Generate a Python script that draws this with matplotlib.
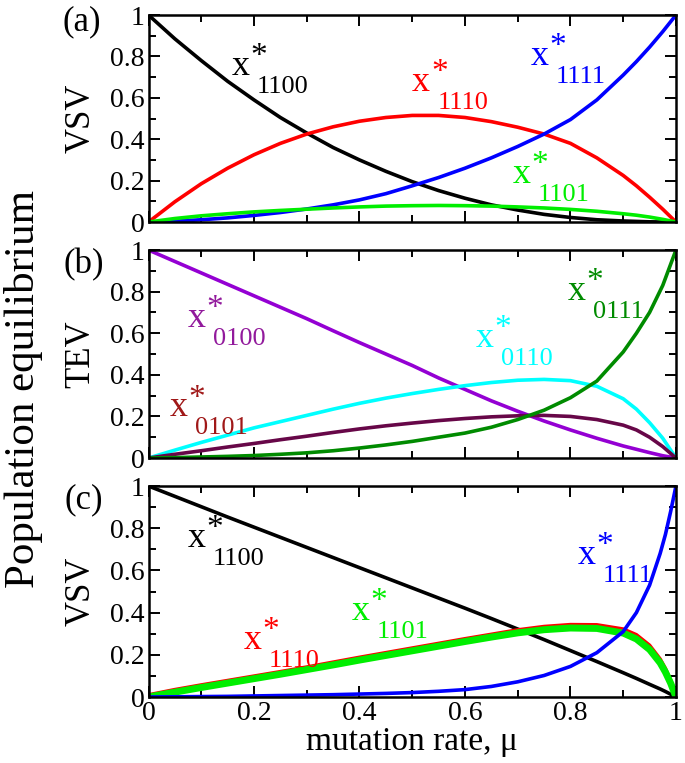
import numpy as np
import matplotlib
matplotlib.use("Agg")
import matplotlib.pyplot as plt
from matplotlib.ticker import MultipleLocator, FormatStrFormatter

plt.rcParams['font.family'] = ['Liberation Serif', 'DejaVu Serif']

# ---- data ----
mu = [0, 0.05, 0.1, 0.15, 0.2, 0.25, 0.3, 0.35, 0.4, 0.45, 0.5,
      0.55, 0.6, 0.65, 0.7, 0.75, 0.8, 0.85, 0.9, 0.925, 0.95, 0.975, 1.0]

# (a) VSV
a_1100 = [1, 0.885, 0.78, 0.68, 0.59, 0.505, 0.43, 0.36, 0.30, 0.245, 0.195,
          0.152, 0.115, 0.083, 0.058, 0.037, 0.022, 0.011, 0.005, 0.003, 0.001, 0.0003, 0]
a_1110 = [0, 0.098, 0.185, 0.26, 0.325, 0.38, 0.425, 0.46, 0.487, 0.505, 0.515,
          0.515, 0.505, 0.485, 0.458, 0.425, 0.38, 0.31, 0.225, 0.175, 0.12, 0.062, 0]
a_1111 = [0, 0.004, 0.011, 0.02, 0.032, 0.046, 0.063, 0.083, 0.107, 0.137, 0.175,
          0.215, 0.26, 0.31, 0.365, 0.425, 0.495, 0.59, 0.71, 0.775, 0.845, 0.92, 1]
a_1101 = [0, 0.017, 0.03, 0.04, 0.049, 0.056, 0.062, 0.068, 0.073, 0.077, 0.079,
          0.08, 0.079, 0.077, 0.073, 0.068, 0.061, 0.052, 0.04, 0.033, 0.024, 0.013, 0]

# (b) TEV
b_0100 = [1, 0.945, 0.89, 0.835, 0.78, 0.725, 0.67, 0.612, 0.555, 0.5, 0.445,
          0.385, 0.33, 0.275, 0.225, 0.178, 0.135, 0.095, 0.058, 0.042, 0.026, 0.011, 0]
b_0110 = [0, 0.038, 0.075, 0.11, 0.145, 0.175, 0.205, 0.235, 0.263, 0.288, 0.31,
          0.33, 0.348, 0.363, 0.374, 0.378, 0.372, 0.345, 0.285, 0.235, 0.17, 0.095, 0]
b_0101 = [0, 0.018, 0.035, 0.053, 0.07, 0.088, 0.105, 0.123, 0.14, 0.155, 0.168,
          0.18, 0.19, 0.198, 0.203, 0.205, 0.2, 0.185, 0.158, 0.135, 0.1, 0.055, 0]
b_0111 = [0, 0.002, 0.005, 0.008, 0.012, 0.018, 0.025, 0.035, 0.048, 0.063, 0.08,
          0.1, 0.12, 0.148, 0.185, 0.23, 0.29, 0.37, 0.51, 0.6, 0.7, 0.83, 1]

# (c) VSV
mu_c = [0, 0.05, 0.1, 0.15, 0.2, 0.25, 0.3, 0.35, 0.4, 0.45, 0.5,
        0.55, 0.6, 0.65, 0.7, 0.75, 0.8, 0.85, 0.9, 0.925, 0.95, 0.97, 0.98, 0.99, 1.0]
c_1100 = [1, 0.951, 0.902, 0.853, 0.805, 0.757, 0.709, 0.661, 0.613, 0.565, 0.517,
          0.469, 0.421, 0.372, 0.322, 0.272, 0.22, 0.168, 0.115, 0.088, 0.06, 0.038, 0.026, 0.013, 0]
c_1110 = [0.01, 0.035, 0.057, 0.078, 0.099, 0.12, 0.142, 0.165, 0.188, 0.21, 0.232,
          0.254, 0.276, 0.297, 0.318, 0.334, 0.343, 0.342, 0.322, 0.295, 0.245, 0.18, 0.135, 0.078, 0]
c_1101 = [0, 0.023, 0.045, 0.066, 0.087, 0.108, 0.13, 0.152, 0.175, 0.197, 0.219,
          0.241, 0.263, 0.284, 0.304, 0.319, 0.327, 0.325, 0.303, 0.275, 0.225, 0.162, 0.118, 0.065, 0]
c_1111 = [0, 0.001, 0.002, 0.003, 0.005, 0.007, 0.009, 0.011, 0.014, 0.017, 0.021,
          0.027, 0.035, 0.05, 0.072, 0.102, 0.145, 0.21, 0.31, 0.4, 0.53, 0.68, 0.77, 0.88, 1]

RED = '#ff0000'
BLUE = '#0000ff'
LIME = '#00ee00'
VIOLET = '#9400d3'
CYAN = '#00ffff'
MAROON = '#670748'
GREEN4 = '#008b00'


def species_label(ax, x, y, sub, color):
    # "x" with a star and a subscript, placed like the original
    ax.text(x, y, 'x', fontsize=26, color=color, ha='left', va='baseline')
    ax.annotate('*', xy=(x, y), xytext=(13.5, 7), textcoords='offset points',
                fontsize=24, color=color, ha='left', va='baseline')
    ax.annotate(sub, xy=(x, y), xytext=(18, -13), textcoords='offset points',
                fontsize=19, color=color, ha='left', va='baseline')


fig = plt.figure(figsize=(6.85, 7.63), dpi=100)
left, width = 0.2168, 0.770
ax_a = fig.add_axes([left, 0.7090, width, 0.2713])
ax_b = fig.add_axes([left, 0.3997, width, 0.2726])
ax_c = fig.add_axes([left, 0.0865, width, 0.2765])

lw = 2.6
ax_a.plot(mu, a_1100, color='black', lw=lw)
ax_a.plot(mu, a_1110, color=RED, lw=lw)
ax_a.plot(mu, a_1111, color=BLUE, lw=lw)
ax_a.plot(mu, a_1101, color=LIME, lw=lw)

ax_b.plot(mu, b_0100, color=VIOLET, lw=lw)
ax_b.plot(mu, b_0110, color=CYAN, lw=lw)
ax_b.plot(mu, b_0101, color=MAROON, lw=lw)
ax_b.plot(mu, b_0111, color=GREEN4, lw=lw)

ax_c.plot(mu_c, c_1100, color='black', lw=lw)
ax_c.plot(mu_c, c_1110, color=RED, lw=lw)
ax_c.plot(mu_c, c_1101, color=LIME, lw=5)
ax_c.plot(mu_c, c_1111, color=BLUE, lw=lw)

species_label(ax_a, 0.157, 0.71, '1100', 'black')
species_label(ax_a, 0.50, 0.635, '1110', RED)
species_label(ax_a, 0.724, 0.76, '1111', BLUE)
species_label(ax_a, 0.69, 0.19, '1101', LIME)

species_label(ax_b, 0.075, 0.63, '0100', '#921a9c')
species_label(ax_b, 0.04, 0.20, '0101', '#a01818')
species_label(ax_b, 0.62, 0.535, '0110', CYAN)
species_label(ax_b, 0.795, 0.76, '0111', GREEN4)

species_label(ax_c, 0.075, 0.713, '1100', 'black')
species_label(ax_c, 0.18, 0.227, '1110', RED)
species_label(ax_c, 0.386, 0.365, '1101', LIME)
species_label(ax_c, 0.814, 0.632, '1111', BLUE)

for ax, lab in [(ax_a, 'VSV'), (ax_b, 'TEV'), (ax_c, 'VSV')]:
    ax.set_xlim(0, 1)
    ax.set_ylim(0, 1)
    ax.xaxis.set_major_locator(MultipleLocator(0.2))
    ax.xaxis.set_minor_locator(MultipleLocator(0.1))
    ax.yaxis.set_major_locator(MultipleLocator(0.2))
    ax.yaxis.set_minor_locator(MultipleLocator(0.1))
    ax.yaxis.set_major_formatter(FormatStrFormatter('%g'))
    ax.xaxis.set_major_formatter(FormatStrFormatter('%g'))
    ax.tick_params(which='both', direction='in', top=True, right=True,
                   width=1.4, labelsize=20, pad=3)
    ax.tick_params(which='major', length=8)
    ax.tick_params(which='minor', length=4.7)
    for s in ax.spines.values():
        s.set_linewidth(1.8)
    ax.set_ylabel(lab, fontsize=25)
    ax.yaxis.set_label_coords(-0.097, 0.5)

ax_a.tick_params(labelbottom=False)
ax_b.tick_params(labelbottom=False)
ax_c.set_xlabel('mutation rate, μ', fontsize=24, labelpad=0)

fig.text(0.12, 0.971, '(a)', fontsize=25, ha='center', va='center')
fig.text(0.122, 0.653, '(b)', fontsize=25, ha='center', va='center')
fig.text(0.122, 0.345, '(c)', fontsize=25, ha='center', va='center')
fig.text(0.034, 0.49, 'Population equilibrium', fontsize=31, rotation=90,
         ha='center', va='center')

fig.savefig('out.png', dpi=100)
